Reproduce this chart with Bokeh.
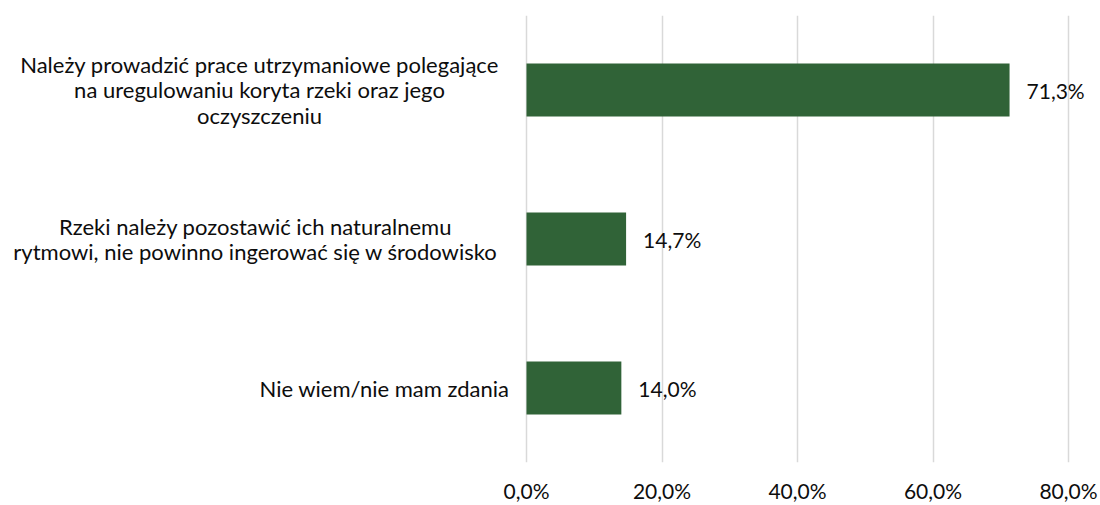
from bokeh.plotting import figure
from bokeh.models import Range1d, FixedTicker, ColumnDataSource
from bokeh.core.properties import value
from bokeh.embed import file_html
from bokeh.resources import INLINE

categories = [
    "Należy prowadzić prace utrzymaniowe polegające\nna uregulowaniu koryta rzeki oraz jego\noczyszczeniu",
    "Rzeki należy pozostawić ich naturalnemu\nrytmowi, nie powinno ingerować się w środowisko",
    "Nie wiem/nie mam zdania",
]
values = [71.3, 14.7, 14.0]
tick_values = [0, 20, 40, 60, 80]
tick_labels = ["0,0%", "20,0%", "40,0%", "60,0%", "80,0%"]

FONT = "Lato"
BAR = "#306337"
TXT = "#0d0d0d"

# layout: pixels per percentage point, axis zero position, label block centres (px)
W, H = 1100, 505
ZERO_PX = 526
SCALE = 542 / 80
RIGHT_PAD = 5
label_centers_px = [259, 255, 384]

idx = list(range(len(categories)))
src = ColumnDataSource(dict(
    y=idx,
    v=values,
    lab=[f"{v:.1f}%".replace(".", ",") for v in values],
))
cat_src = ColumnDataSource(dict(
    y=idx,
    x=[(px - ZERO_PX) / SCALE for px in label_centers_px],
    text=categories,
))

p = figure(width=W, height=H, output_backend="svg", toolbar_location=None,
           x_range=Range1d(-ZERO_PX / SCALE, (W - RIGHT_PAD - ZERO_PX) / SCALE),
           y_range=Range1d(len(categories) - 0.5, -0.5),
           min_border_left=0, min_border_right=RIGHT_PAD, min_border_top=15, min_border_bottom=42)
p.outline_line_color = None
p.background_fill_color = "white"

p.hbar(y="y", right="v", left=0, height=0.355, source=src, fill_color=BAR, line_color=None)
p.text(x="v", y="y", text="lab", source=src, x_offset=17, text_baseline="middle",
       text_align="left", text_font=value(FONT), text_font_size="21px", text_color=TXT)
p.text(x="x", y="y", text="text", source=cat_src, text_baseline="middle",
       text_align="center", text_font=value(FONT), text_font_size="22px", text_color=TXT,
       text_line_height=0.95)

p.yaxis.visible = False
p.ygrid.visible = False
p.xgrid.grid_line_color = "#D9D9D9"
p.xgrid.grid_line_width = 1.5
p.xaxis.ticker = FixedTicker(ticks=tick_values)
p.xaxis.major_label_overrides = {t: l for t, l in zip(tick_values, tick_labels)}
p.xaxis.axis_line_color = None
p.xaxis.major_tick_line_color = None
p.xaxis.minor_tick_line_color = None
p.xaxis.major_label_standoff = 9
p.xaxis.major_label_text_font = FONT
p.xaxis.major_label_text_font_size = "21px"
p.xaxis.major_label_text_color = TXT

open("out.html", "w").write(file_html(p, INLINE))
